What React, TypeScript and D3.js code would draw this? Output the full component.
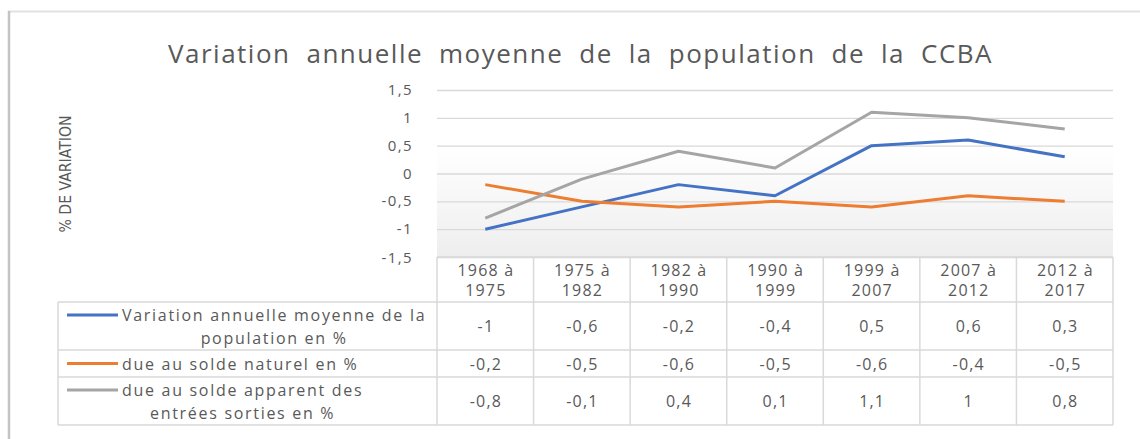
import React, { useEffect, useRef } from "react";
import * as d3 from "d3";

const categories = ["1968 à 1975", "1975 à 1982", "1982 à 1990", "1990 à 1999", "1999 à 2007", "2007 à 2012", "2012 à 2017"];
const seriesNames = [
  "Variation annuelle moyenne de la population en %",
  "due au solde naturel en %",
  "due au solde apparent des entrées sorties en %",
];
const legendLines = [
  ["Variation annuelle moyenne de la", "population en %"],
  ["due au solde naturel en %"],
  ["due au solde apparent des", "entrées sorties en %"],
];
const totalValues = [-1, -0.6, -0.2, -0.4, 0.5, 0.6, 0.3];
const naturalValues = [-0.2, -0.5, -0.6, -0.5, -0.6, -0.4, -0.5];
const migrationValues = [-0.8, -0.1, 0.4, 0.1, 1.1, 1, 0.8];
const seriesColors = ["#4472c4", "#ed7d31", "#a5a5a5"];
const yTicks = [-1.5, -1, -0.5, 0, 0.5, 1, 1.5];

const title = "Variation annuelle moyenne de la population de la CCBA";
const yTitle = "% DE VARIATION";

const App = () => {
  const svgRef = useRef(null);

  useEffect(() => {
    const W = 1140;
    const H = 439;
    const plot = { left: 437, right: 1113, top: 90, bottom: 257 };
    const legendLeft = 58;
    const headerH = 45;
    const lineH = 21;
    const font = "'Open Sans', sans-serif";
    const textColor = "#595959";
    const border = "#d9d9d9";

    const fr = d3.formatLocale({ decimal: ",", thousands: " ", grouping: [3], currency: ["", "€"], minus: "-" });
    const fmt = fr.format("~g");

    const svg = d3.select(svgRef.current).attr("width", W).attr("height", H);
    svg.selectAll("*").remove();

    const defs = svg.append("defs");
    const grad = defs.append("linearGradient").attr("id", "bg").attr("x1", 0).attr("x2", 0).attr("y1", 0).attr("y2", 1);
    grad.append("stop").attr("offset", "0%").attr("stop-color", "#ffffff");
    grad.append("stop").attr("offset", "25%").attr("stop-color", "#fbfbfb");
    grad.append("stop").attr("offset", "100%").attr("stop-color", "#eeeeee");

    svg.append("rect").attr("width", W).attr("height", H).attr("fill", "#ffffff");

    // chart frame
    svg.append("line").attr("x1", 8).attr("x2", W).attr("y1", 11.5).attr("y2", 11.5).attr("stroke", "#e2e2e2").attr("stroke-width", 2);
    svg.append("line").attr("x1", 9).attr("x2", 9).attr("y1", 11).attr("y2", H).attr("stroke", "#c4c4c4").attr("stroke-width", 2.5);

    const x = d3.scaleBand().domain(categories).range([plot.left, plot.right]);
    const y = d3.scaleLinear().domain([-1.5, 1.5]).range([plot.bottom, plot.top]);

    svg.append("rect")
      .attr("x", plot.left).attr("y", y(0.5))
      .attr("width", plot.right - plot.left).attr("height", plot.bottom - y(0.5))
      .attr("fill", "url(#bg)");

    // title: word gaps widened to span the reference width
    const titleText = svg.append("text")
      .attr("x", 168).attr("y", 63)
      .attr("font-family", font).attr("font-size", 26).attr("letter-spacing", 1.5).attr("fill", textColor)
      .text(title);
    const tw = titleText.node().getComputedTextLength();
    const gaps = title.split(" ").length - 1;
    titleText.attr("word-spacing", Math.max(0, (825 - tw) / gaps));

    // y axis title
    svg.append("text")
      .attr("transform", `translate(71,174) rotate(-90)`)
      .attr("text-anchor", "middle")
      .attr("textLength", 117).attr("lengthAdjust", "spacingAndGlyphs")
      .attr("font-family", "'DejaVu Sans Condensed', 'Liberation Sans Narrow', sans-serif")
      .attr("font-size", 15).attr("fill", textColor)
      .text(yTitle);

    // grid + tick labels
    svg.append("g").selectAll("line").data(yTicks).join("line")
      .attr("x1", plot.left).attr("x2", plot.right)
      .attr("y1", (d) => y(d) + 0.5).attr("y2", (d) => y(d) + 0.5)
      .attr("stroke", border).attr("stroke-width", 1.3);

    svg.append("g").selectAll("text").data(yTicks).join("text")
      .attr("x", 413).attr("y", (d) => y(d) + (d === -1.5 ? 6 : 5))
      .attr("text-anchor", "end")
      .attr("font-family", font).attr("font-size", 15).attr("letter-spacing", 1.4).attr("fill", textColor)
      .text((d) => fmt(d));

    // lines
    const series = [totalValues, naturalValues, migrationValues];
    const line = d3.line().x((d, i) => x(categories[i]) + x.bandwidth() / 2).y((d) => y(d));
    series.forEach((vals, si) => {
      svg.append("path")
        .datum(vals)
        .attr("d", line)
        .attr("fill", "none")
        .attr("stroke", seriesColors[si])
        .attr("stroke-width", 3)
        .attr("stroke-linejoin", "round");
    });

    // data table
    const rowTops = [];
    let acc = plot.bottom + headerH;
    legendLines.forEach((ls) => {
      rowTops.push(acc);
      acc += ls.length * lineH + 6;
    });
    const tableBottom = acc;
    const table = svg.append("g");

    table.append("line").attr("x1", plot.left).attr("x2", plot.right).attr("y1", plot.bottom).attr("y2", plot.bottom).attr("stroke", border).attr("stroke-width", 1.5);
    const colEdges = categories.map((c) => x(c)).concat([plot.right]);
    table.selectAll(".vcol").data(colEdges).join("line")
      .attr("class", "vcol")
      .attr("x1", (d) => d).attr("x2", (d) => d)
      .attr("y1", plot.bottom).attr("y2", tableBottom)
      .attr("stroke", border).attr("stroke-width", 1.5);

    categories.forEach((c) => {
      const parts = [c.slice(0, 6), c.slice(7)];
      parts.forEach((p, k) => {
        table.append("text")
          .attr("x", x(c) + x.bandwidth() / 2 + 0.6)
          .attr("y", plot.bottom + 19 + k * 20)
          .attr("text-anchor", "middle")
          .attr("font-family", font).attr("font-size", 16).attr("letter-spacing", 1.2).attr("fill", textColor)
          .text(p);
      });
    });

    const hLines = rowTops.concat([tableBottom]);
    table.selectAll(".hrow").data(hLines).join("line")
      .attr("class", "hrow")
      .attr("x1", legendLeft).attr("x2", plot.right)
      .attr("y1", (d) => d).attr("y2", (d) => d)
      .attr("stroke", border).attr("stroke-width", 1.5);
    table.append("line").attr("x1", legendLeft).attr("x2", legendLeft).attr("y1", rowTops[0]).attr("y2", tableBottom).attr("stroke", border).attr("stroke-width", 1.5);

    legendLines.forEach((ls, si) => {
      const top = rowTops[si];
      const h = ls.length * lineH + 6;
      const mid = top + h / 2;
      const ly = mid - (ls.length > 1 ? 11 : 0);
      table.append("line")
        .attr("x1", 67).attr("x2", 118)
        .attr("y1", ly).attr("y2", ly)
        .attr("stroke", seriesColors[si]).attr("stroke-width", 3);
      const texts = ls.map((t, k) =>
        table.append("text")
          .attr("y", mid + 6 + (k - (ls.length - 1) / 2) * 23)
          .attr("text-anchor", "middle")
          .attr("font-family", font).attr("font-size", 16).attr("letter-spacing", 1.7).attr("fill", textColor)
          .text(t)
      );
      const widths = texts.map((t) => t.node().getComputedTextLength());
      const center = 122 + d3.max(widths) / 2;
      texts.forEach((t) => t.attr("x", center));

      series[si].forEach((v, i) => {
        table.append("text")
          .attr("x", x(categories[i]) + x.bandwidth() / 2 + 0.6)
          .attr("y", mid + 6)
          .attr("text-anchor", "middle")
          .attr("font-family", font).attr("font-size", 16).attr("letter-spacing", 1.2).attr("fill", textColor)
          .text(fmt(v));
      });
    });
    svg.append("desc").text(seriesNames.join("; "));
  }, []);

  return (
    <div style={{ position: "absolute", left: 0, top: 0 }}>
      <svg ref={svgRef} style={{ display: "block" }}></svg>
    </div>
  );
};

export default App;
